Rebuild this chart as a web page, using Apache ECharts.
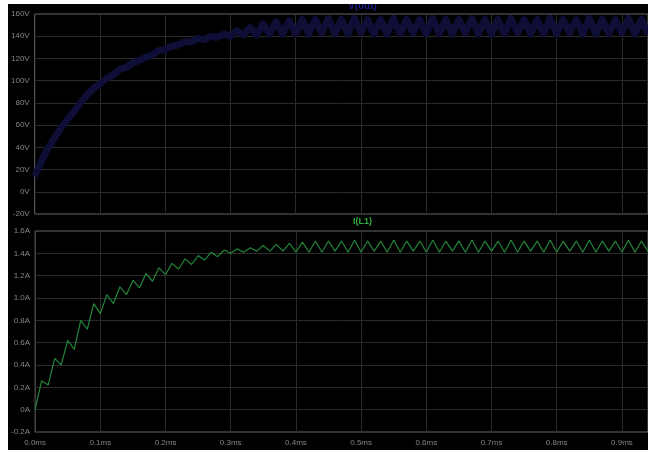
<!DOCTYPE html>
<html>
<head>
<meta charset="utf-8">
<script src="https://cdn.jsdelivr.net/npm/echarts@6/dist/echarts.min.js"></script>
<style>
  html, body { margin: 0; padding: 0; background: #ffffff; }
  body { width: 648px; height: 454px; position: relative; overflow: hidden; }
  #plot { position: absolute; left: 8px; top: 4px; width: 640px; height: 446px; }
</style>
</head>
<body>
<div id="plot"></div>
<script>
// Transient run of a switching converter: output node voltage (upper pane)
// and inductor current (lower pane), sampled at every switching edge.
const timeMs = [
  0.00, 0.01, 0.02, 0.03, 0.04, 0.05, 0.06, 0.07, 0.08, 0.09,
  0.10, 0.11, 0.12, 0.13, 0.14, 0.15, 0.16, 0.17, 0.18, 0.19,
  0.20, 0.21, 0.22, 0.23, 0.24, 0.25, 0.26, 0.27, 0.28, 0.29,
  0.30, 0.31, 0.32, 0.33, 0.34, 0.35, 0.36, 0.37, 0.38, 0.39,
  0.40, 0.41, 0.42, 0.43, 0.44, 0.45, 0.46, 0.47, 0.48, 0.49,
  0.50, 0.51, 0.52, 0.53, 0.54, 0.55, 0.56, 0.57, 0.58, 0.59,
  0.60, 0.61, 0.62, 0.63, 0.64, 0.65, 0.66, 0.67, 0.68, 0.69,
  0.70, 0.71, 0.72, 0.73, 0.74, 0.75, 0.76, 0.77, 0.78, 0.79,
  0.80, 0.81, 0.82, 0.83, 0.84, 0.85, 0.86, 0.87, 0.88, 0.89,
  0.90, 0.91, 0.92, 0.93, 0.94
];

const outputVoltageV = [
  14, 27, 39, 48, 57, 65, 72, 80, 87, 93,
  97, 102, 105, 110, 112, 116, 118, 121, 123, 127,
  128, 131, 132, 135, 135, 138, 137, 140, 139, 142,
  140, 145, 141, 148, 141, 151, 142, 153, 142, 154,
  142, 155, 142, 155, 143, 156, 142, 155, 142, 156,
  143, 155, 142, 155, 142, 156, 142, 155, 143, 155,
  142, 156, 142, 155, 142, 155, 143, 156, 142, 155,
  142, 155, 142, 156, 143, 155, 142, 155, 142, 156,
  142, 155, 143, 155, 142, 156, 142, 155, 142, 155,
  143, 156, 142, 155, 142
];

const inductorCurrentA = [
  0.00, 0.26, 0.22, 0.46, 0.40, 0.62, 0.54, 0.80, 0.72, 0.95,
  0.86, 1.03, 0.95, 1.10, 1.03, 1.16, 1.09, 1.22, 1.15, 1.27,
  1.21, 1.31, 1.26, 1.35, 1.30, 1.38, 1.34, 1.41, 1.37, 1.43,
  1.40, 1.44, 1.41, 1.45, 1.42, 1.47, 1.42, 1.48, 1.42, 1.49,
  1.41, 1.50, 1.41, 1.51, 1.41, 1.51, 1.42, 1.51, 1.41, 1.52,
  1.41, 1.51, 1.42, 1.51, 1.41, 1.52, 1.41, 1.51, 1.42, 1.51,
  1.41, 1.52, 1.41, 1.51, 1.42, 1.51, 1.41, 1.52, 1.41, 1.51,
  1.42, 1.51, 1.41, 1.52, 1.41, 1.51, 1.42, 1.51, 1.41, 1.52,
  1.41, 1.51, 1.42, 1.51, 1.41, 1.52, 1.41, 1.51, 1.42, 1.51,
  1.41, 1.52, 1.41, 1.51, 1.42
];

// Axis tick values
const timeTicksMs = [0.0, 0.1, 0.2, 0.3, 0.4, 0.5, 0.6, 0.7, 0.8, 0.9];
const voltTicks = [-20, 0, 20, 40, 60, 80, 100, 120, 140, 160];
const ampTicks = [-0.2, 0.0, 0.2, 0.4, 0.6, 0.8, 1.0, 1.2, 1.4, 1.6];

const traceNames = { voltage: 'V(out)', current: 'I(L1)' };

const labelFont = { color: '#858585', fontSize: 8, fontFamily: 'Liberation Sans, Arial, sans-serif' };
const gridLine = { show: true, showMinLine: false, showMaxLine: false, lineStyle: { color: '#2b2b2b', width: 1 } };

const chart = echarts.init(document.getElementById('plot'), null, { renderer: 'canvas' });

function ampLabel(v) {
  const r = Math.round(v * 10) / 10;
  return r === 0 ? '0A' : r.toFixed(1) + 'A';
}

chart.setOption({
  backgroundColor: '#000000',
  animation: false,
  grid: [
    { left: 21, top: 10, width: 630, height: 200, show: true, borderColor: '#666666', borderWidth: 1, backgroundColor: 'transparent' },
    { left: 21, top: 227, width: 630, height: 201, show: true, borderColor: '#666666', borderWidth: 1, backgroundColor: 'transparent' }
  ],
  xAxis: [
    {
      type: 'value', gridIndex: 0, min: timeTicksMs[0], max: 0.94, interval: 0.1,
      axisLine: { show: false }, axisTick: { show: false }, axisLabel: { show: false },
      splitLine: gridLine
    },
    {
      type: 'value', gridIndex: 1, min: timeTicksMs[0], max: 0.94, interval: 0.1,
      axisLine: { show: false }, axisTick: { show: false },
      axisLabel: Object.assign({ margin: 7, showMaxLabel: false, formatter: v => (Math.round(v * 10) / 10).toFixed(1) + 'ms' }, labelFont),
      splitLine: gridLine
    }
  ],
  yAxis: [
    {
      type: 'value', gridIndex: 0, min: voltTicks[0], max: voltTicks[voltTicks.length - 1], interval: 20,
      axisLine: { show: false }, axisTick: { show: false },
      axisLabel: Object.assign({ margin: 5, formatter: v => Math.round(v) + 'V' }, labelFont),
      splitLine: gridLine
    },
    {
      type: 'value', gridIndex: 1, min: ampTicks[0], max: ampTicks[ampTicks.length - 1], interval: 0.2,
      axisLine: { show: false }, axisTick: { show: false },
      axisLabel: Object.assign({ margin: 5, formatter: ampLabel }, labelFont),
      splitLine: gridLine
    }
  ],
  graphic: [
    {
      type: 'text', left: 340, top: -3, z: 10,
      style: { text: traceNames.voltage, fill: '#1c1c80', font: 'bold 10px Liberation Sans, Arial, sans-serif' }
    },
    {
      type: 'text', left: 345, top: 213, z: 10,
      style: { text: traceNames.current, fill: '#2fae42', font: 'bold 9px Liberation Sans, Arial, sans-serif' }
    }
  ],
  series: [
    {
      type: 'line', name: traceNames.voltage, xAxisIndex: 0, yAxisIndex: 0,
      data: timeMs.map((t, i) => [t, outputVoltageV[i]]),
      showSymbol: false, smooth: false, clip: true,
      lineStyle: { color: '#0e0e36', width: 7, join: 'round' }
    },
    {
      type: 'line', name: traceNames.current, xAxisIndex: 1, yAxisIndex: 1,
      data: timeMs.map((t, i) => [t, inductorCurrentA[i]]),
      showSymbol: false, smooth: false, clip: true,
      lineStyle: { color: '#23853a', width: 1.2 }
    }
  ]
});
</script>
</body>
</html>
